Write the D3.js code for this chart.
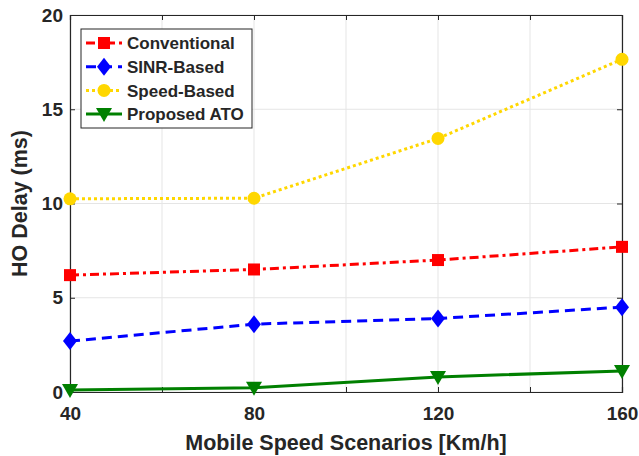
<!DOCTYPE html>
<html>
<head>
<meta charset="utf-8">
<script src="https://cdn.jsdelivr.net/npm/d3@7"></script>
<style>
  html, body { margin: 0; padding: 0; background: #fff; }
  svg { display: block; }
  text { font-family: "Liberation Sans", Arial, Helvetica, sans-serif; font-weight: bold; fill: #262626; }
</style>
</head>
<body>
<svg id="chart" width="639" height="456"></svg>
<script>
// Mobile speed scenarios (km/h)
const speeds = [40, 80, 120, 160];
// HO delay (ms) per scheme
const conventional = [6.2, 6.5, 7.0, 7.7];
const sinrBased    = [2.7, 3.6, 3.9, 4.5];
const speedBased   = [10.25, 10.28, 13.45, 17.65];
const proposedATO  = [0.1, 0.22, 0.8, 1.12];

const seriesNames = ["Conventional", "SINR-Based", "Speed-Based", "Proposed ATO"];
const xTicks = [40, 60, 80, 100, 120, 140, 160];
const xTickLabels = [40, 80, 120, 160];
const yTicks = [0, 5, 10, 15, 20];

const series = [
  { name: seriesNames[0], values: conventional, color: "#ff0000", dash: "9,4,3,4", marker: "square" },
  { name: seriesNames[1], values: sinrBased,    color: "#0000ff", dash: "10,6",    marker: "diamond" },
  { name: seriesNames[2], values: speedBased,   color: "#ffd700", dash: "3,3",     marker: "circle" },
  { name: seriesNames[3], values: proposedATO,  color: "#008000", dash: null,      marker: "triangle" }
];

const svg = d3.select("#chart");
const m = { left: 70, top: 15, right: 622, bottom: 392 };

const x = d3.scaleLinear().domain([40, 160]).range([m.left, m.right]);
const y = d3.scaleLinear().domain([0, 20]).range([m.bottom, m.top]);

// grid
const grid = svg.append("g");
grid.selectAll("line.vx").data(xTicks).join("line")
  .attr("x1", d => x(d)).attr("x2", d => x(d))
  .attr("y1", m.top).attr("y2", m.bottom)
  .attr("stroke", "#e5e5e5").attr("stroke-width", 1);
grid.selectAll("line.hy").data(yTicks).join("line")
  .attr("y1", d => y(d)).attr("y2", d => y(d))
  .attr("x1", m.left).attr("x2", m.right)
  .attr("stroke", "#e5e5e5").attr("stroke-width", 1);

// axes
const axColor = "#262626";
const xAxis = svg.append("g").attr("transform", `translate(0,${m.bottom})`)
  .call(d3.axisBottom(x).tickValues(xTicks).tickSize(-5).tickPadding(15)
    .tickFormat(d => xTickLabels.includes(d) ? d : ""));
const xAxisTop = svg.append("g").attr("transform", `translate(0,${m.top})`)
  .call(d3.axisTop(x).tickValues(xTicks).tickSize(-5).tickFormat(""));
const yAxis = svg.append("g").attr("transform", `translate(${m.left},0)`)
  .call(d3.axisLeft(y).tickValues(yTicks).tickSize(-5).tickPadding(7));
const yAxisRight = svg.append("g").attr("transform", `translate(${m.right},0)`)
  .call(d3.axisRight(y).tickValues(yTicks).tickSize(-5).tickFormat(""));

[xAxis, xAxisTop, yAxis, yAxisRight].forEach(g => {
  g.select(".domain").attr("stroke", axColor).attr("stroke-width", 1.2);
  g.selectAll(".tick line").attr("stroke", axColor).attr("stroke-width", 1);
  g.selectAll("text").attr("font-size", 19).attr("font-weight", "bold")
    .attr("font-family", "Liberation Sans, Arial, sans-serif").attr("fill", axColor);
});
xAxis.selectAll("text").attr("dy", "0.71em");

// titles
svg.append("text").attr("x", (m.left + m.right) / 2).attr("y", 450)
  .attr("text-anchor", "middle").attr("font-size", 21.5)
  .text("Mobile Speed Scenarios [Km/h]");
svg.append("text")
  .attr("transform", `translate(27,${(m.top + m.bottom) / 2}) rotate(-90)`)
  .attr("text-anchor", "middle").attr("font-size", 21.5)
  .text("HO Delay (ms)");

// markers
function drawMarker(g, type, cx, cy, color) {
  if (type === "square") {
    g.append("rect").attr("x", cx - 6).attr("y", cy - 6).attr("width", 12).attr("height", 12).attr("fill", color);
  } else if (type === "diamond") {
    g.append("path").attr("d", `M${cx},${cy - 9}L${cx + 7},${cy}L${cx},${cy + 9}L${cx - 7},${cy}Z`).attr("fill", color);
  } else if (type === "circle") {
    g.append("circle").attr("cx", cx).attr("cy", cy).attr("r", 6.5).attr("fill", color);
  } else if (type === "triangle") {
    g.append("path").attr("d", `M${cx - 8},${cy - 6}L${cx + 8},${cy - 6}L${cx},${cy + 8}Z`).attr("fill", color);
  }
}

const line = d3.line().x((d, i) => x(speeds[i])).y(d => y(d));
const plot = svg.append("g");
series.forEach(s => {
  plot.append("path").datum(s.values).attr("d", line)
    .attr("fill", "none").attr("stroke", s.color).attr("stroke-width", 3)
    .attr("stroke-dasharray", s.dash);
  const mg = plot.append("g");
  s.values.forEach((v, i) => drawMarker(mg, s.marker, x(speeds[i]), y(v), s.color));
});

// legend
const lg = svg.append("g");
lg.append("rect").attr("x", 81).attr("y", 29).attr("width", 171).attr("height", 99)
  .attr("fill", "#fff").attr("stroke", axColor).attr("stroke-width", 1);
series.forEach((s, i) => {
  const cy = 43 + i * 23.7;
  lg.append("line").attr("x1", 86).attr("x2", 122).attr("y1", cy).attr("y2", cy)
    .attr("stroke", s.color).attr("stroke-width", 3).attr("stroke-dasharray", s.dash);
  drawMarker(lg, s.marker, 104, cy, s.color);
  lg.append("text").attr("x", 127).attr("y", cy).attr("dy", "0.36em")
    .attr("font-size", 17).text(s.name);
});
</script>
</body>
</html>
